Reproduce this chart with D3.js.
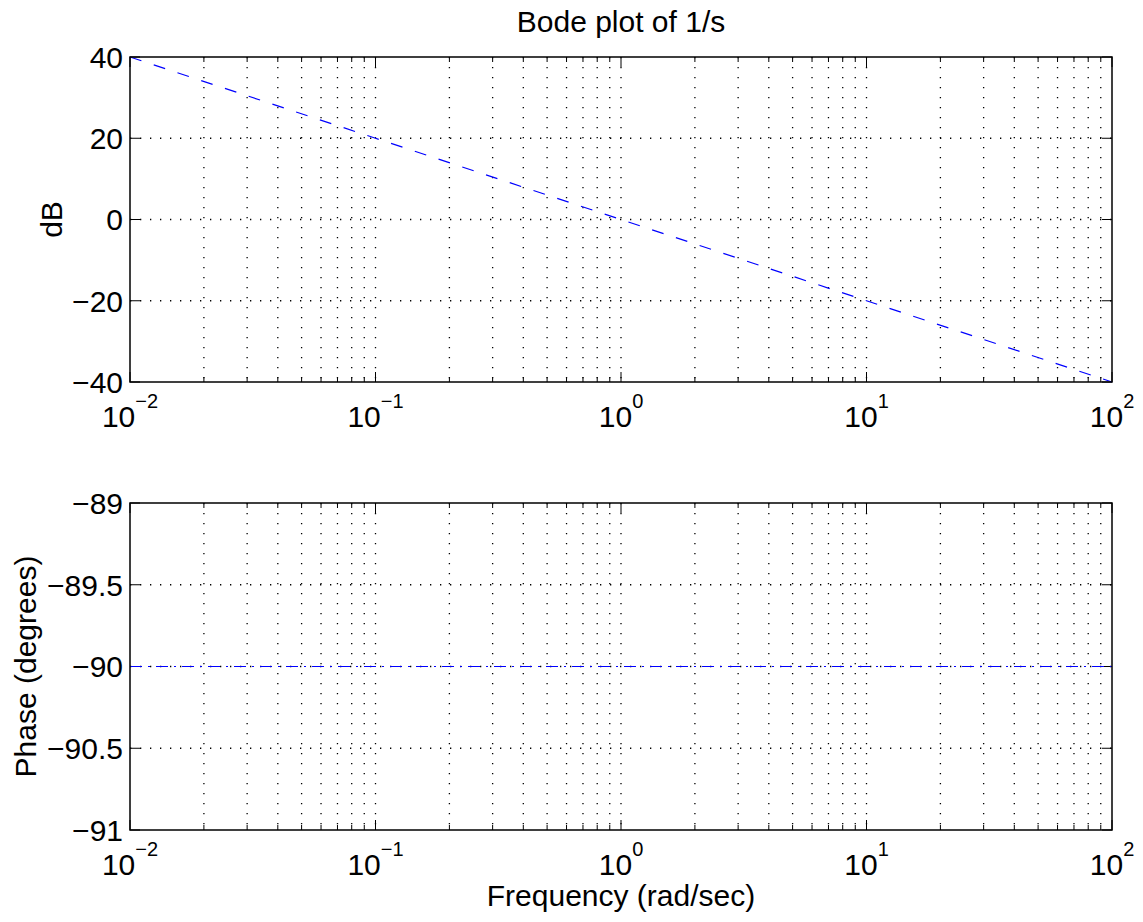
<!DOCTYPE html>
<html lang="en">
<head>
<meta charset="UTF-8">
<title>Bode plot of 1/s</title>
<style>
  body { margin: 0; background: #fff; }
  svg { display: block; font-family: 'Liberation Sans', Arial, Helvetica, sans-serif; }
  .grid line { stroke: #000; stroke-width: 1.3; stroke-dasharray: 1.3, 8.7; }
  .box { fill: none; stroke: #000; stroke-width: 1.5; }
  .tick line { stroke: #000; stroke-width: 1; }
</style>
</head>
<body>
<svg id="chart" width="1143" height="922"></svg>
<script src="https://d3js.org/d3.v7.min.js"></script>
<script>
// frequencies read at each decade (rad/sec)
const freq = [0.01, 0.1, 1, 10, 100];
// magnitude in dB
const magDb = [40, 20, 0, -20, -40];
// phase in degrees
const phaseDeg = [-90, -90, -90, -90, -90];

const magTicks = [-40, -20, 0, 20, 40];
const phaseTicks = [-91, -90.5, -90, -89.5, -89];
const decades = [-2, -1, 0, 1, 2];

const svg = d3.select("#chart");
const left = 130, right = 1112;
const fs = 30;

const x = d3.scaleLog().domain([0.01, 100]).range([left, right]);

// minor ticks 2..9 in each decade
const minor = [];
for (let d = -2; d < 2; d++) {
  for (let k = 2; k <= 9; k++) minor.push(k * Math.pow(10, d));
}
const majors = decades.map(d => Math.pow(10, d));

function fmt(v) {
  return (v < 0 ? "\u2212" : "") + Math.abs(v);
}

function panel(top, bottom, yDomain, yTicks, xs, ys, dash, yLabel, labelX) {
  const y = d3.scaleLinear().domain(yDomain).range([bottom, top]);
  const g = svg.append("g");

  // grid
  const grid = g.append("g").attr("class", "grid");
  grid.selectAll("line.v")
    .data(minor.concat(majors.slice(1, -1)))
    .enter().append("line")
    .attr("x1", d => x(d)).attr("x2", d => x(d))
    .attr("y1", top).attr("y2", bottom);
  grid.selectAll("line.h")
    .data(yTicks.slice(1, -1))
    .enter().append("line")
    .attr("x1", left).attr("x2", right)
    .attr("y1", d => y(d)).attr("y2", d => y(d));

  // ticks (inward, all four sides)
  const tk = g.append("g").attr("class", "tick");
  const xt = majors.map(v => ({ v: v, len: 10 })).concat(minor.map(v => ({ v: v, len: 5 })));
  xt.forEach(t => {
    tk.append("line").attr("x1", x(t.v)).attr("x2", x(t.v)).attr("y1", bottom).attr("y2", bottom - t.len);
    tk.append("line").attr("x1", x(t.v)).attr("x2", x(t.v)).attr("y1", top).attr("y2", top + t.len);
  });
  yTicks.forEach(v => {
    tk.append("line").attr("x1", left).attr("x2", left + 10).attr("y1", y(v)).attr("y2", y(v));
    tk.append("line").attr("x1", right).attr("x2", right - 10).attr("y1", y(v)).attr("y2", y(v));
  });

  // data line
  const line = d3.line().x((d, i) => x(xs[i])).y(d => y(d));
  g.append("path")
    .datum(ys)
    .attr("d", line)
    .attr("fill", "none")
    .attr("stroke", "#0000ff")
    .attr("stroke-width", 1.2)
    .attr("stroke-dasharray", dash);

  g.append("rect").attr("class", "box")
    .attr("x", left).attr("y", top)
    .attr("width", right - left).attr("height", bottom - top);

  // y tick labels
  g.selectAll("text.yl")
    .data(yTicks)
    .enter().append("text")
    .attr("x", left - 7)
    .attr("y", d => y(d))
    .attr("dy", "0.36em")
    .attr("text-anchor", "end")
    .attr("font-size", fs)
    .text(d => fmt(d));

  // x tick labels 10^n
  decades.forEach(d => {
    const t = g.append("text")
      .attr("x", x(Math.pow(10, d)))
      .attr("y", bottom + 45)
      .attr("text-anchor", "middle")
      .attr("font-size", fs);
    t.append("tspan").text("10");
    t.append("tspan").attr("dy", -19).attr("font-size", 20).text(fmt(d));
  });

  // y label
  g.append("text")
    .attr("transform", `translate(${labelX},${(top + bottom) / 2}) rotate(-90)`)
    .attr("text-anchor", "middle")
    .attr("font-size", fs)
    .text(yLabel);
}

panel(57, 382, [-40, 40], magTicks, freq, magDb, "12,13", "dB", 62);
panel(503, 830, [-91, -89], phaseTicks, freq, phaseDeg, "12,6,2,6", "Phase (degrees)", 36);

svg.append("text")
  .attr("x", (left + right) / 2)
  .attr("y", 32)
  .attr("text-anchor", "middle")
  .attr("font-size", fs)
  .text("Bode plot of 1/s");

svg.append("text")
  .attr("x", (left + right) / 2)
  .attr("y", 906)
  .attr("text-anchor", "middle")
  .attr("font-size", fs)
  .text("Frequency (rad/sec)");
</script>
</body>
</html>
